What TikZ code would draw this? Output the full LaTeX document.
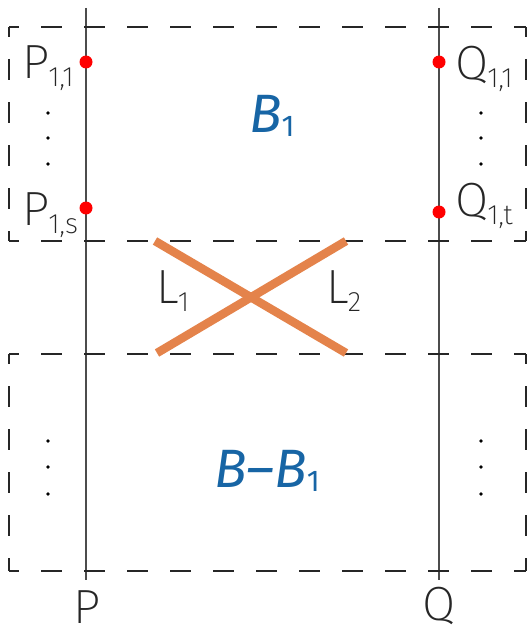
\documentclass[tikz,border=0pt]{standalone}
\usepackage{fontspec}
\IfFontExistsTF{Fira Sans ExtraLight}{\setmainfont{Fira Sans ExtraLight}}{\IfFontExistsTF{Fira Sans Light}{\setmainfont{Fira Sans Light}}{\setmainfont{Fira Sans}}}
\newfontfamily\bluefam{Fira Sans}
\definecolor{crossorange}{HTML}{E4834B}
\definecolor{setblue}{HTML}{1765A5}
\definecolor{inkgray}{HTML}{262626}
\newcommand\thinlab[2]{#1\kern-1pt\raisebox{-8.5pt}{\fontsize{28}{28}\selectfont #2}}
\newcommand\bluesub[1]{\raisebox{-4pt}{\upshape\fontsize{30}{30}\selectfont #1}}
\begin{document}
\begin{tikzpicture}[x=1pt,y=-1pt,
  dashline/.style={draw=inkgray, line width=1.8pt, dash pattern=on 21pt off 22pt, dash phase=11pt},
  pole/.style={draw=black!70, line width=2.6pt},
  redpt/.style={circle, fill=red, inner sep=0pt, minimum size=13pt},
  ellpt/.style={circle, fill=black, inner sep=0pt, minimum size=3.6pt},
  crossline/.style={draw=crossorange, line width=8.5pt},
  thinlbl/.style={inner sep=0pt, anchor=base west, text=inkgray, font=\fontsize{48}{48}\selectfont},
  bluelbl/.style={inner sep=0pt, anchor=base west, text=setblue, font=\bluefam\itshape\fontsize{54}{54}\selectfont}]
\useasboundingbox (0,0) rectangle (528,626);
% corners of the two boxes
\coordinate (a1) at (9,27);   \coordinate (a2) at (526,27);
\coordinate (a3) at (526,241); \coordinate (a4) at (9,241);
\coordinate (b1) at (9,354);  \coordinate (b2) at (526,354);
\coordinate (b3) at (526,571); \coordinate (b4) at (9,571);
% poles
\coordinate (ptop) at (86,8);  \coordinate (pbot) at (86,580);
\coordinate (qtop) at (439,8); \coordinate (qbot) at (439,580);
\draw[pole] (ptop) -- (pbot);
\draw[pole] (qtop) -- (qbot);
% dashed boxes
\draw[dashline] (a1) -- (a2);
\draw[dashline] (a4) -- (a3);
\draw[dashline] (a1) -- (a4);
\draw[dashline] (a2) -- (a3);
\draw[dashline] (b1) -- (b2);
\draw[dashline] (b4) -- (b3);
\draw[dashline] (b1) -- (b4);
\draw[dashline] (b2) -- (b3);
% crossing lines
\coordinate (l1s) at (155,241); \coordinate (l1e) at (346,353);
\coordinate (l2s) at (157,353); \coordinate (l2e) at (346,241);
\draw[crossline] (l1s) -- (l1e);
\draw[crossline] (l2s) -- (l2e);
% red points
\node[redpt] (p11) at (86,62) {};
\node[redpt] (p1s) at (86,208) {};
\node[redpt] (q11) at (439,62) {};
\node[redpt] (q1t) at (439,212) {};
% labels
\node[thinlbl] (lp11) at (22,78) {\thinlab{P}{1,1}};
\node[thinlbl] (lp1s) at (22,225) {\thinlab{P}{1,s}};
\node[thinlbl] (lq11) at (455,79) {\thinlab{Q}{1,1}};
\node[thinlbl] (lq1t) at (455,216) {\thinlab{Q}{1,t}};
\node[thinlbl] (ll1) at (156,303) {\thinlab{L}{1}};
\node[thinlbl] (ll2) at (326,303) {\thinlab{L}{2}};
\node[thinlbl, text depth=0pt] (lp) at (73,623) {P};
\node[thinlbl, text depth=0pt] (lq) at (422,620) {Q};
% ellipsis dots
\foreach \yy [count=\i] in {113,138,164} {
  \node[ellpt] (dl\i) at (48,\yy) {};
  \node[ellpt] (dr\i) at (481,\yy) {};
}
\foreach \yy [count=\i] in {441,467,494} {
  \node[ellpt] (el\i) at (48,\yy) {};
  \node[ellpt] (er\i) at (481,\yy) {};
}
% blue set names
\node[bluelbl] (b1lab) at (249,132) {B\bluesub{1}};
\node[bluelbl] (bblab) at (214,487) {B–B\bluesub{1}};
\end{tikzpicture}
\end{document}
